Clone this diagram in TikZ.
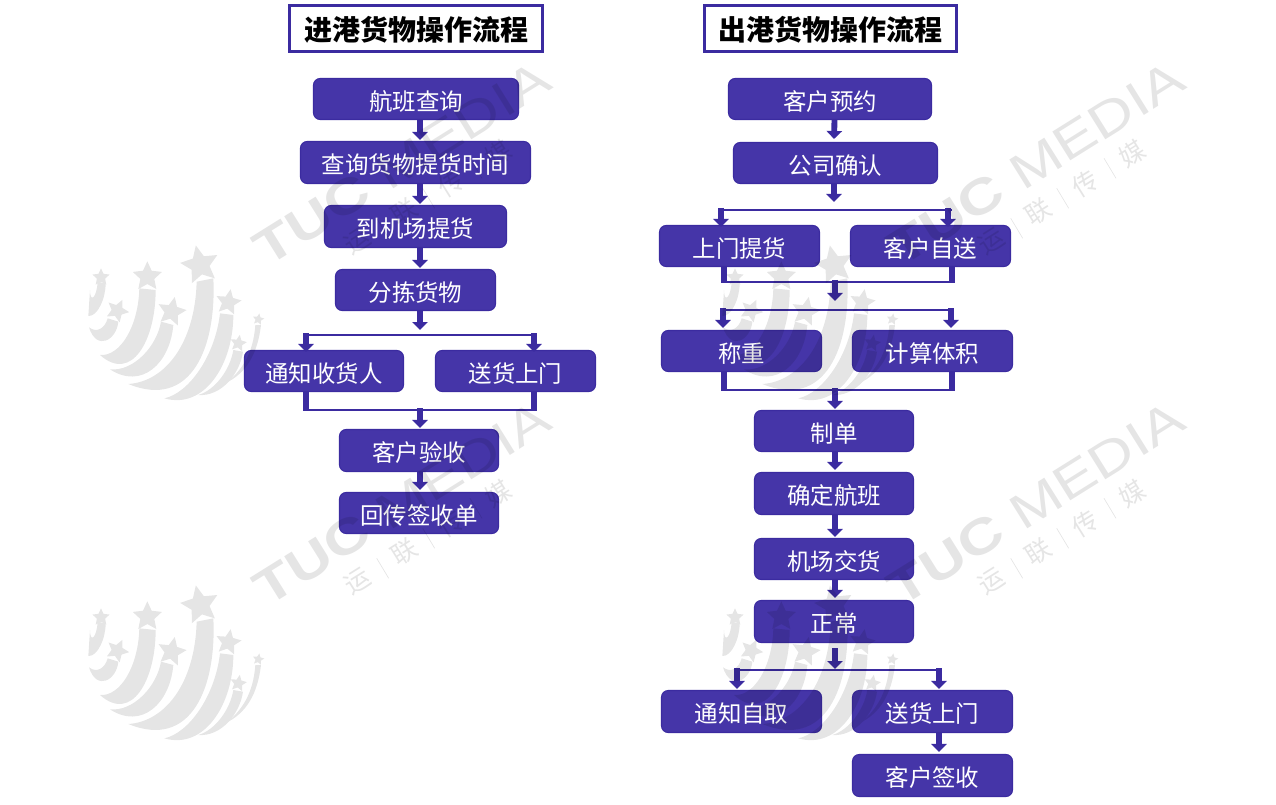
\documentclass[tikz,border=0pt]{standalone}
\usepackage{fontspec}
\setmainfont{Noto Sans CJK SC}
\newfontfamily\wmfont{Liberation Sans}
\usetikzlibrary{arrows.meta,calc}
\definecolor{boxfill}{HTML}{4535A8}
\definecolor{boxline}{HTML}{3B2BA0}
\newcommand{\lstar}[4]{%
  \fill[shift={(#1,#2)},rotate=#4] (-90:#3) -- (-54:0.48*#3) -- (-18:#3) -- (18:0.48*#3) -- (54:#3) -- (90:0.48*#3) -- (126:#3) -- (162:0.48*#3) -- (198:#3) -- (234:0.48*#3) -- cycle;}
\tikzset{
  sz/.style 2 args={minimum width=(#1-1)*0.75pt,minimum height=(#2-1)*0.75pt},
  flowbox/.style={draw=boxline,fill=boxfill,line width=0.8pt,rounded corners=5pt,inner sep=0pt,text=white,text height=18pt,text depth=0.8pt,font=\fontsize{17.6pt}{20pt}\selectfont},
  titlebox/.style={draw=boxline,fill=white,line width=2.4pt,inner sep=0pt,text=black,text height=18.5pt,text depth=1pt,font=\fontsize{21pt}{24pt}\selectfont\bfseries},
  flowarrow/.style={draw=boxline,line width=4.4pt,-{Triangle[length=6pt,width=11.5pt]},shorten >=0pt},
  flowstem/.style={draw=boxline,line width=4.4pt},
  flowbar/.style={draw=boxline,line width=2.1pt},
  wmtext/.style={inner sep=0pt,rotate=32,font=\wmfont\fontsize{37pt}{40pt}\selectfont},
  wmsub/.style={inner sep=0pt,rotate=32,font=\fontsize{19pt}{22pt}\selectfont}
}
\begin{document}
\begin{tikzpicture}[x=0.75pt,y=-0.75pt]
\useasboundingbox (0,0) rectangle (1276,805);
\fill[white] (0,0) rectangle (1276,805);
% titles
\node[titlebox,sz={254}{47}] (t1) at (416,28.5) {进港货物操作流程};
\node[titlebox,sz={253}{47}] (t2) at (830.5,28.5) {出港货物操作流程};
% left column
\node[flowbox,sz={206}{42}] (a1) at (416,99) {航班查询};
\node[flowbox,sz={231}{43}] (a2) at (415.5,162.5) {查询货物提货时间};
\node[flowbox,sz={183}{43}] (a3) at (415.5,226.5) {到机场提货};
\node[flowbox,sz={161}{42}] (a4) at (415.5,290) {分拣货物};
\node[flowbox,sz={160}{42}] (a5) at (324,371) {通知收货人};
\node[flowbox,sz={161}{42}] (a6) at (515.5,371) {送货上门};
\node[flowbox,sz={160}{43}] (a7) at (419,450.5) {客户验收};
\node[flowbox,sz={160}{42}] (a8) at (419,513) {回传签收单};
% right column
\node[flowbox,sz={204}{42}] (b1) at (830,99) {客户预约};
\node[flowbox,sz={205}{42}] (b2) at (835.5,163) {公司确认};
\node[flowbox,sz={161}{42}] (b3) at (739.5,246) {上门提货};
\node[flowbox,sz={161}{42}] (b4) at (930.5,246) {客户自送};
\node[flowbox,sz={161}{42}] (b5) at (741.5,351) {称重};
\node[flowbox,sz={161}{42}] (b6) at (932.5,351) {计算体积};
\node[flowbox,sz={160}{42}] (b7) at (834,431) {制单};
\node[flowbox,sz={160}{43}] (b8) at (834,493.5) {确定航班};
\node[flowbox,sz={160}{42}] (b9) at (834,559) {机场交货};
\node[flowbox,sz={160}{43}] (b10) at (834,621.5) {正常};
\node[flowbox,sz={161}{43}] (b11) at (741.5,711.5) {通知自取};
\node[flowbox,sz={161}{43}] (b12) at (932.5,711.5) {送货上门};
\node[flowbox,sz={161}{43}] (b13) at (932.5,775.5) {客户签收};
% guide coordinates
\coordinate (cl) at (420,0);
\coordinate (cr) at (835,0);
\coordinate (la) at (306,335);
\coordinate (lb) at (534,335);
\coordinate (lc) at (306,410);
\coordinate (ld) at (534,410);
\coordinate (ra) at (721,210);
\coordinate (rb) at (948,210);
\coordinate (rc) at (724,282);
\coordinate (rd) at (952,282);
\coordinate (re) at (723,310);
\coordinate (rf) at (951,310);
\coordinate (rg) at (724,390);
\coordinate (rh) at (952,390);
\coordinate (ri) at (737,670);
\coordinate (rj) at (939,670);
% left connectors
\draw[flowarrow] (a1.south -| cl) -- ($(a2.north -| cl)+(0,-1)$);
\draw[flowarrow] (a2.south -| cl) -- ($(a3.north -| cl)+(0,-1)$);
\draw[flowarrow] (a3.south -| cl) -- ($(a4.north -| cl)+(0,-1)$);
\draw[flowarrow] (a4.south -| cl) -- ($(la -| cl)+(0,-5)$);
\draw[flowbar] ($(la)+(-2,0)$) -- ($(lb)+(3,0)$);
\draw[flowarrow] ($(la)+(0,-2)$) -- ($(a5.north -| la)+(0,2)$);
\draw[flowarrow] ($(lb)+(0,-2)$) -- ($(a6.north -| lb)+(0,2)$);
\draw[flowstem] (a5.south -| lc) -- ($(lc)+(0,1)$);
\draw[flowstem] (a6.south -| ld) -- ($(ld)+(0,1)$);
\draw[flowbar] ($(lc)+(-2,0)$) -- ($(ld)+(3,0)$);
\draw[flowarrow] ($(lc -| cl)+(0,-2)$) -- ($(a7.north -| cl)+(0,-1)$);
\draw[flowarrow] (a7.south -| cl) -- ($(a8.north -| cl)+(0,-2)$);
% right connectors
\draw[flowarrow] (b1.south -| b2) ++(-1,0) -- ($(b2.north)+(-1.5,-3)$);
\draw[flowarrow] ($(b2.south)+(-1.5,0)$) -- ($(ra -| b2)+(-1.5,-8)$);
\draw[flowbar] ($(ra)+(-3,0)$) -- ($(rb)+(4,0)$);
\draw[flowarrow] ($(ra)+(0,-2)$) -- ($(b3.north -| ra)+(0,2)$);
\draw[flowarrow] ($(rb)+(0,-2)$) -- ($(b4.north -| rb)+(0,2)$);
\draw[flowstem] (b3.south -| rc) -- ($(rc)+(0,1)$);
\draw[flowstem] (b4.south -| rd) -- ($(rd)+(0,1)$);
\draw[flowbar] ($(rc)+(-2,0)$) -- ($(rd)+(2,0)$);
\draw[flowarrow] ($(rc -| cr)+(0,-2)$) -- ($(re -| cr)+(0,-9)$);
\draw[flowbar] ($(re)+(-2,0)$) -- ($(rf)+(2,0)$);
\draw[flowarrow] ($(re)+(0,-2)$) -- ($(b5.north -| re)+(0,-2)$);
\draw[flowarrow] ($(rf)+(0,-2)$) -- ($(b6.north -| rf)+(0,-2)$);
\draw[flowstem] (b5.south -| rg) -- ($(rg)+(0,1)$);
\draw[flowstem] (b6.south -| rh) -- ($(rh)+(0,1)$);
\draw[flowbar] ($(rg)+(-2,0)$) -- ($(rh)+(2,0)$);
\draw[flowarrow] ($(rg -| cr)+(0,-2)$) -- ($(b7.north -| cr)+(0,-1)$);
\draw[flowarrow] (b7.south -| cr) -- ($(b8.north -| cr)+(0,-2)$);
\draw[flowarrow] (b8.south -| cr) -- ($(b9.north -| cr)+(0,-1)$);
\draw[flowarrow] (b9.south -| cr) -- ($(b10.north -| cr)+(0,-2)$);
\draw[flowarrow] ($(b10.south -| cr)+(0,5)$) -- ($(ri -| cr)+(0,-1)$);
\draw[flowbar] ($(ri)+(-3,0)$) -- ($(rj)+(3,0)$);
\draw[flowarrow] ($(ri)+(0,-2)$) -- ($(b11.north -| ri)+(0,-1)$);
\draw[flowarrow] ($(rj)+(0,-2)$) -- ($(b12.north -| rj)+(0,-1)$);
\draw[flowarrow] (b12.south -| rj) -- ($(b13.north -| rj)+(0,-2)$);
% watermark tiles
\foreach \dx/\dy in {0/0,634/0,0/-340,634/-340}{
\begin{scope}[shift={(\dx,\dy)},transparency group,opacity=0.1]
  \node[wmtext] (wm\dx\dy) at (402,503) {\scalebox{1.25}[1]{\textbf{TUC} MEDIA}};
  \node[wmsub] (wa\dx\dy) at (357.7,581.7) {运};
  \node[wmsub] (wb\dx\dy) at (404.3,551.7) {联};
  \node[wmsub] (wc\dx\dy) at (451,523.3) {传};
  \node[wmsub] (wd\dx\dy) at (497.7,494) {媒};
  \foreach \bx/\by in {382.7/568.3,428.7/538.3,476/508.3}
    \draw[line width=0.5pt] ({\bx-6},{\by-10}) -- ({\bx+6},{\by+10});
  \begin{scope}[shift={(85,580)},x=0.25pt,y=-0.25pt]
    \lstar{345}{75}{60}{12}
    \fill (385,115) .. controls (395,320) and (320,510) .. (130,432) .. controls (240,425) and (330,310) .. (335,125) -- cycle;
    \lstar{187}{110}{46}{0}
    \fill (212,150) .. controls (212,300) and (140,430) .. (45,345) .. controls (105,350) and (160,260) .. (163,145) -- cycle;
    \lstar{260}{215}{45}{-12}
    \fill (265,255) .. controls (255,370) and (170,450) .. (75,388) .. controls (145,395) and (215,320) .. (228,245) -- cycle;
    \lstar{430}{187}{40}{-10}
    \fill (445,225) .. controls (445,370) and (360,510) .. (238,475) .. controls (310,460) and (390,350) .. (405,220) -- cycle;
    \lstar{97}{212}{36}{-25}
    \fill (100,245) .. controls (95,300) and (35,335) .. (12,262) .. controls (35,280) and (60,265) .. (68,235) -- cycle;
    \lstar{48}{112}{27}{0}
    \fill (62,130) .. controls (62,175) and (38,230) .. (10,228) -- (15,150) .. controls (15,190) and (35,175) .. (38,125) -- cycle;
    \lstar{460}{310}{26}{-10}
    \fill (474,335) .. controls (465,400) and (410,470) .. (340,465) .. controls (390,450) and (435,390) .. (445,330) -- cycle;
    \lstar{520}{238}{18}{-10}
    \fill (528,255) .. controls (518,340) and (485,400) .. (420,430) .. controls (470,395) and (505,340) .. (511,255) -- cycle;
  \end{scope}
\end{scope}
}
\end{tikzpicture}
\end{document}
